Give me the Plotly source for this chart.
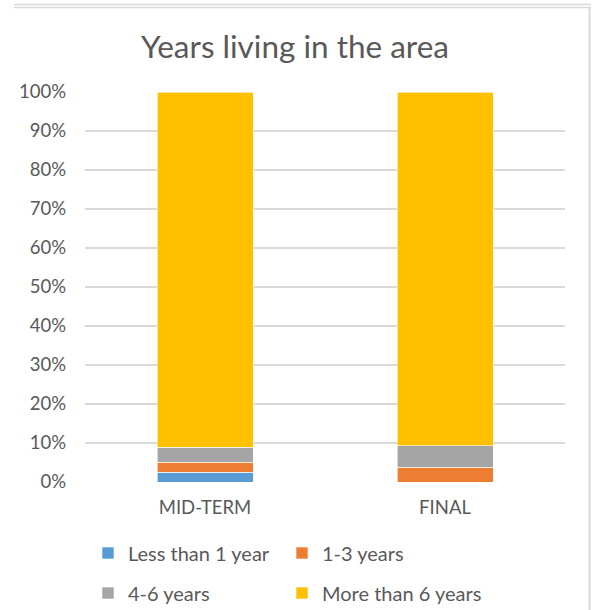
import plotly.graph_objects as go

categories = ["MID-TERM", "FINAL"]
series_names = ["Less than 1 year", "1-3 years", "4-6 years", "More than 6 years"]
less_than_1 = [2.5, 0.0]
one_to_three = [2.6, 3.8]
four_to_six = [3.8, 5.5]
more_than_6 = [91.1, 90.7]
y_ticks = [0, 10, 20, 30, 40, 50, 60, 70, 80, 90, 100]
y_tick_labels = [f"{v}%" for v in y_ticks]

colors = ["#5B9BD5", "#ED7D31", "#A5A5A5", "#FFC000"]
values = [less_than_1, one_to_three, four_to_six, more_than_6]
legends = ["legend", "legend", "legend2", "legend2"]
entry_widths = [149, 180, 149, 180]

W, H = 593, 610
ml, mr, mt, mb = 85, 28, 92, 128
FONT = "Lato"
TXT = "#595959"

fig = go.Figure()
for name, vals, col, lg, ew in zip(series_names, values, colors, legends, entry_widths):
    fig.add_trace(go.Bar(
        x=categories, y=vals, name=name,
        marker=dict(color=col, line=dict(color="#FFFFFF", width=0.6)),
        legend=lg, legendwidth=ew,
    ))

pw = W - ml - mr
ph = H - mt - mb
def px_x(p):
    return (p - ml) / pw
def px_y(p):
    return (H - mb - p) / ph

shapes = []
for yy in (4.5, 7.5):
    shapes.append(dict(type="line", xref="paper", yref="paper",
                       x0=px_x(14), x1=px_x(591), y0=px_y(yy), y1=px_y(yy),
                       line=dict(color="#D9D9D9", width=1.5)))
shapes.append(dict(type="line", xref="paper", yref="paper",
                   x0=px_x(589.5), x1=px_x(589.5), y0=px_y(7.5), y1=px_y(610),
                   line=dict(color="#D9D9D9", width=2)))

leg_common = dict(orientation="h", x=px_x(88), xanchor="left",
                  yanchor="middle",
                  font=dict(size=20, color=TXT), itemwidth=30,
                  bgcolor="rgba(0,0,0,0)", traceorder="normal")

fig.update_layout(
    width=W, height=H,
    margin=dict(l=ml, r=mr, t=mt, b=mb, autoexpand=False),
    paper_bgcolor="white", plot_bgcolor="white",
    barmode="stack", bargap=0.6,
    font=dict(family=FONT, color=TXT, size=16),
    title=dict(text="Years living in the area", x=295 / W, xref="container",
               xanchor="center", y=1 - 47 / H, yanchor="middle",
               font=dict(family=FONT, size=31.5, color=TXT)),
    xaxis=dict(showgrid=False, showline=False, zeroline=False,
               ticklabelstandoff=12,
               tickfont=dict(size=18.5, color=TXT), ticks="", ticklen=0),
    yaxis=dict(range=[0, 100], tickvals=y_ticks, ticktext=y_tick_labels,
               showgrid=True, gridcolor="#D9D9D9", gridwidth=1.5,
               zeroline=False, showline=False, ticks="",
               ticklabelstandoff=18,
               tickfont=dict(size=18.5, color=TXT)),
    legend=dict(y=px_y(553), **leg_common),
    legend2=dict(y=px_y(593), **leg_common),
    shapes=shapes,
)

fig.write_html("out.html")
